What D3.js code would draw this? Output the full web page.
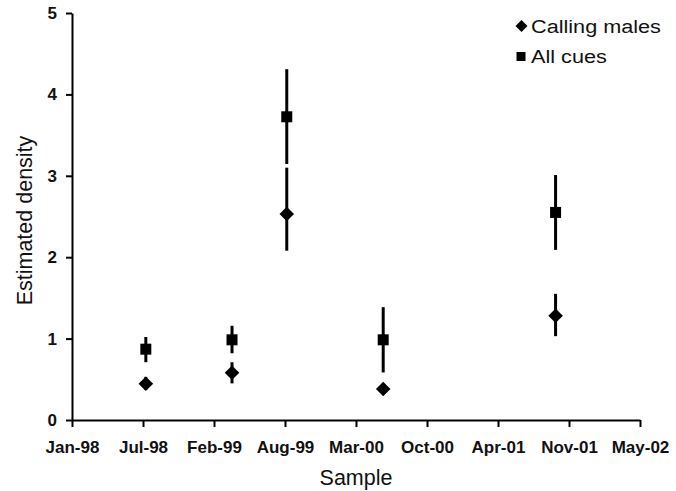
<!DOCTYPE html>
<html>
<head>
<meta charset="utf-8">
<script src="https://cdn.jsdelivr.net/npm/d3@7"></script>
<style>
  html, body { margin: 0; padding: 0; background: #fff; }
  svg { display: block; font-family: "Liberation Sans", Arial, Helvetica, sans-serif; }
</style>
</head>
<body>
<svg id="chart" width="676" height="491"></svg>
<script>
// ---- data ----
const sampleDates   = ["1998-07-29", "1999-03-30", "1999-09-01", "2000-05-31", "2001-10-01"];
const callingMales  = [0.445, 0.58, 2.53, 0.38, 1.28];
const callingLow    = [0.37, 0.45, 2.08, 0.38, 1.03];
const callingHigh   = [0.53, 0.71, 3.10, 0.38, 1.55];
const allCues       = [0.87, 0.985, 3.725, 0.985, 2.55];
const allCuesLow    = [0.71, 0.82, 3.145, 0.584, 2.09];
const allCuesHigh   = [1.02, 1.157, 4.31, 1.386, 3.01];
const xTickDates    = ["1998-01-01", "1998-07-21", "1999-02-07", "1999-08-27", "2000-03-15",
                       "2000-10-02", "2001-04-21", "2001-11-08", "2002-05-28"];
const xTickLabels   = ["Jan-98", "Jul-98", "Feb-99", "Aug-99", "Mar-00", "Oct-00", "Apr-01", "Nov-01", "May-02"];
const yTicks        = [0, 1, 2, 3, 4, 5];
const seriesNames   = ["Calling males", "All cues"];

// ---- layout ----
const parse = d3.timeParse("%Y-%m-%d");
const svg = d3.select("#chart");
const mLeft = 72, mRight = 640, mTop = 13, mBottom = 420;

const x = d3.scaleTime()
  .domain([parse(xTickDates[0]), parse(xTickDates[xTickDates.length - 1])])
  .range([mLeft, mRight]);
const y = d3.scaleLinear().domain([0, 5]).range([mBottom, mTop]);

// axes
const xAxis = d3.axisBottom(x)
  .tickValues(xTickDates.map(parse))
  .tickFormat((d, i) => xTickLabels[i])
  .tickSizeInner(7).tickSizeOuter(0).tickPadding(14);
const gx = svg.append("g").attr("transform", `translate(0,${mBottom})`).call(xAxis);

const yAxis = d3.axisLeft(y)
  .tickValues(yTicks)
  .tickFormat(d3.format("d"))
  .tickSizeInner(6).tickSizeOuter(0).tickPadding(9);
const gy = svg.append("g").attr("transform", `translate(${mLeft},0)`).call(yAxis);

[gx, gy].forEach(g => {
  g.select(".domain").attr("stroke", "#000").attr("stroke-width", 2);
  g.selectAll(".tick line").attr("stroke", "#000").attr("stroke-width", 2);
  g.selectAll(".tick text")
    .attr("fill", "#111")
    .style("font-size", "17px")
    .style("font-weight", "bold")
    .style("font-family", "'Liberation Sans', Arial, sans-serif");
});

// axis titles
svg.append("text")
  .attr("x", 356).attr("y", 485)
  .attr("text-anchor", "middle")
  .attr("fill", "#111")
  .style("font-size", "21.5px")
  .text("Sample");

svg.append("text")
  .attr("transform", `translate(32,${(mTop + mBottom) / 2 + 4}) rotate(-90)`)
  .attr("text-anchor", "middle")
  .attr("fill", "#111")
  .style("font-size", "21.5px")
  .text("Estimated density");

// data rows
const rows = sampleDates.map((d, i) => ({
  date: parse(d),
  cm: callingMales[i], cmLo: callingLow[i], cmHi: callingHigh[i],
  ac: allCues[i], acLo: allCuesLow[i], acHi: allCuesHigh[i]
}));

const diamond = d3.symbol().type(d3.symbolSquare).size(106);
const square = d3.symbol().type(d3.symbolSquare).size(121);

const g = svg.append("g");
// error bars
g.selectAll("line.eb-ac").data(rows).join("line")
  .attr("class", "eb-ac")
  .attr("x1", d => x(d.date)).attr("x2", d => x(d.date))
  .attr("y1", d => y(d.acLo)).attr("y2", d => y(d.acHi))
  .attr("stroke", "#000").attr("stroke-width", 3);
g.selectAll("line.eb-cm").data(rows).join("line")
  .attr("class", "eb-cm")
  .attr("x1", d => x(d.date)).attr("x2", d => x(d.date))
  .attr("y1", d => y(d.cmLo)).attr("y2", d => y(d.cmHi))
  .attr("stroke", "#000").attr("stroke-width", 3);

// markers
g.selectAll("path.sq").data(rows).join("path")
  .attr("class", "sq")
  .attr("d", square)
  .attr("transform", d => `translate(${x(d.date)},${y(d.ac)})`)
  .attr("fill", "#000");
g.selectAll("path.dm").data(rows).join("path")
  .attr("class", "dm")
  .attr("d", diamond)
  .attr("transform", d => `translate(${x(d.date)},${y(d.cm)}) rotate(45)`)
  .attr("fill", "#000");

// legend
const legend = svg.append("g");
legend.append("path")
  .attr("d", d3.symbol().type(d3.symbolSquare).size(72))
  .attr("transform", "translate(521.5,26) rotate(45)")
  .attr("fill", "#000");
legend.append("path")
  .attr("d", d3.symbol().type(d3.symbolSquare).size(81))
  .attr("transform", "translate(521,56.5)")
  .attr("fill", "#000");
legend.selectAll("text").data(seriesNames).join("text")
  .attr("transform", (d, i) => `translate(531,${32.5 + i * 30}) scale(1.14,1)`)
  .attr("fill", "#111")
  .style("font-size", "19px")
  .text(d => d);
</script>
</body>
</html>
